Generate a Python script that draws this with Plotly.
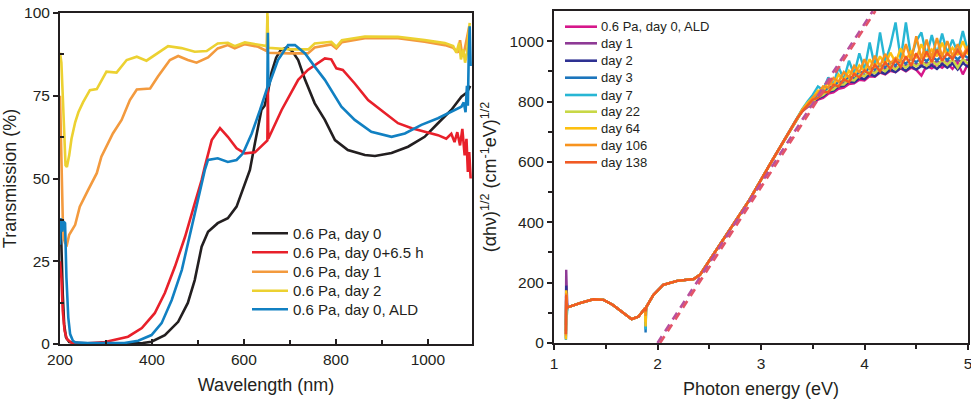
import plotly.graph_objects as go

# ---------------- Left panel: transmission spectra ----------------
wl_black = [200, 203, 206, 209, 213, 220, 240, 300, 380, 399, 428, 457, 478, 493, 508, 522, 543, 565, 584, 602, 613, 624, 638, 645, 652, 660, 670, 680, 693, 705, 718, 733, 754, 776, 798, 826, 863, 885, 921, 957, 993, 1022, 1051, 1073, 1085, 1092]
t_black = [38, 30, 15, 6, 2, 0.6, 0.3, 0.2, 0.3, 0.7, 2.7, 6.7, 12.4, 19.3, 29.4, 33.9, 36.5, 38, 41.5, 48.5, 52.6, 60.7, 70.7, 72, 76, 82, 86.5, 88.8, 89.6, 88.5, 85.8, 79.8, 72.7, 67.7, 61.6, 58.6, 57.1, 56.8, 57.7, 59.6, 62.6, 66.7, 70.7, 74.7, 76, 78]

wl_red = [200, 203, 206, 210, 215, 225, 260, 298, 348, 378, 406, 428, 450, 472, 493, 508, 515, 530, 548, 565, 584, 602, 624, 641, 651, 652, 653, 682, 718, 739, 776, 790, 801, 815, 841, 870, 906, 935, 965, 993, 1022, 1040, 1051, 1058, 1064, 1070, 1075, 1080, 1084, 1087, 1090, 1093]
t_red = [25, 20, 10, 4, 1.5, 0.4, 0.2, 0.6, 2.2, 4.8, 9.3, 15.4, 23.4, 32.4, 42.5, 49.5, 53.6, 61.6, 65.2, 62.6, 59.1, 57.6, 57.9, 60.1, 61.5, 78, 62, 70.7, 79.8, 82.8, 86.3, 86, 83.3, 82.8, 78.7, 73.7, 69.7, 66.7, 65.2, 64.1, 63.1, 62, 63.5, 61, 64, 60, 65, 57, 62, 52, 58, 50]

wl_orange = [200, 202, 204, 206, 208, 211, 215, 220, 233, 243, 261, 280, 290, 315, 334, 352, 367, 396, 413, 439, 457, 478, 497, 522, 543, 565, 580, 602, 631, 650, 651, 652, 700, 739, 754, 790, 801, 813, 863, 935, 993, 1037, 1055, 1065, 1070, 1075, 1080, 1085, 1090]
t_orange = [75, 62, 47, 38, 32, 30.5, 30, 33, 36, 41.5, 46.5, 51.6, 56.6, 63.6, 67.7, 73.7, 76.9, 77.2, 80.8, 85.8, 87, 85.8, 85, 86.6, 89.3, 90.3, 89.3, 90.6, 89.8, 88.5, 99, 88, 87.8, 87.8, 89.6, 90.5, 89.3, 91.2, 92.4, 92.4, 91.3, 90.3, 89.5, 88, 91.8, 87, 89, 93, 96]

wl_yellow = [200, 203, 206, 209, 212, 215, 220, 225, 233, 240, 250, 265, 280, 301, 323, 345, 367, 388, 406, 435, 464, 493, 519, 543, 565, 580, 602, 630, 650, 651, 653, 700, 740, 754, 790, 801, 813, 863, 935, 993, 1037, 1055, 1062, 1068, 1072, 1077, 1081, 1085, 1088, 1091]
t_yellow = [88, 85, 75, 62, 54, 53.5, 57, 62, 67, 70, 73, 76.7, 77, 82.3, 82, 85.8, 86.8, 85.6, 87.3, 90, 89.4, 88.3, 88.5, 90.8, 91, 90, 91.1, 90.5, 90, 100, 89.5, 89, 89, 90.8, 91.3, 89.8, 91.8, 92.9, 92.8, 91.8, 90.9, 90, 88, 91, 86, 89, 85, 88, 93, 97]

wl_blue = [200, 202, 205, 208, 211, 214, 218, 222, 228, 233, 260, 340, 370, 399, 421, 443, 465, 478, 493, 508, 515, 522, 543, 565, 584, 598, 617, 635, 651, 652, 653, 674, 696, 711, 733, 754, 776, 812, 841, 877, 921, 950, 986, 1022, 1051, 1073, 1078, 1082, 1085, 1087, 1089, 1091, 1093]
t_blue = [30, 38, 34, 37, 36.5, 20, 8, 3, 1, 0.5, 0.3, 0.3, 1, 2.7, 6.3, 13.3, 22.4, 30.4, 39.5, 48.5, 52.6, 55.6, 56.1, 55, 55.6, 57.6, 63.6, 70.7, 77.5, 94, 77.7, 85.8, 90.3, 90.3, 87.8, 83.8, 79.8, 71.7, 67.7, 64.1, 62.6, 63.6, 66.2, 68.2, 70.2, 71.7, 73, 70, 78, 72, 88, 96, 84]

left_names = ["0.6 Pa, day 0", "0.6 Pa, day 0+6.5 h", "0.6 Pa, day 1", "0.6 Pa, day 2", "0.6 Pa, day 0, ALD"]
left_colors = ["#231f20", "#e8202a", "#f39a3e", "#ecd131", "#1180c2"]

# ---------------- Right panel: Tauc plot ----------------
E_low_a = [1.13, 1.155, 1.25, 1.38, 1.48, 1.57, 1.67, 1.75, 1.815, 1.88]
y_low_a = [118, 121, 132, 145, 143, 126, 99, 79, 87, 115]
E_low_b = [1.89, 1.96, 2.056, 2.19, 2.35, 2.41, 2.70, 2.89, 3.10, 3.35]
y_low_b = [118, 159, 193, 206, 212, 226, 375, 475, 600, 745]
E_spike = [1.115, 1.118, 1.121, 1.124]
E_dip = [1.885]

E_hi = [3.40, 3.45, 3.50, 3.55, 3.60, 3.65, 3.70, 3.75, 3.80, 3.85, 3.90, 3.95, 4.00, 4.05, 4.10, 4.15, 4.20,
        4.25, 4.30, 4.35, 4.40, 4.45, 4.50, 4.55, 4.60, 4.65, 4.70, 4.75, 4.80, 4.85, 4.90, 4.95, 5.00]

right_names = ["0.6 Pa, day 0, ALD", "day 1", "day 2", "day 3", "day 7", "day 22", "day 64", "day 106", "day 138"]
right_colors = ["#d6178a", "#8e3a95", "#2e3192", "#1c75bc", "#27b6d4", "#c8d846", "#fdc010", "#f7931e", "#f15a24"]

spike_lo = [30, 60, 40, 15, 10, 20, 12, 25, 30]
spike_hi = [170, 243, 190, 150, 130, 160, 175, 165, 160]
spike_mid = [120, 170, 133, 105, 91, 112, 122, 115, 112]
dip_189 = [100, 100, 90, 35, 45, 70, 55, 90, 105]

hi_day0 = [768, 782, 792, 806, 812, 826, 830, 842, 846, 858, 860, 872, 870, 884, 882, 896, 890, 902, 897, 910, 900, 912, 905, 886, 918, 910, 922, 912, 926, 908, 930, 890, 925]
hi_day1 = [772, 786, 800, 810, 824, 830, 844, 848, 860, 862, 874, 876, 888, 886, 900, 896, 910, 904, 916, 910, 922, 916, 926, 920, 930, 922, 934, 926, 936, 928, 938, 930, 940]
hi_day2 = [770, 784, 796, 810, 818, 832, 836, 850, 852, 866, 864, 878, 874, 890, 884, 898, 892, 906, 898, 912, 902, 916, 906, 918, 910, 920, 908, 924, 912, 926, 906, 928, 914]
hi_day3 = [774, 792, 806, 822, 830, 846, 850, 866, 866, 882, 880, 898, 896, 912, 906, 922, 914, 930, 920, 936, 926, 942, 930, 946, 934, 950, 936, 952, 938, 954, 940, 956, 944]
hi_day7 = [776, 800, 822, 850, 838, 880, 856, 915, 872, 935, 890, 960, 905, 996, 915, 1029, 930, 985, 1062, 940, 1062, 945, 1000, 1029, 950, 1020, 955, 1025, 960, 1005, 962, 1034, 965]
hi_day22 = [770, 786, 800, 814, 822, 836, 840, 856, 856, 872, 870, 888, 884, 900, 894, 910, 900, 918, 906, 924, 912, 928, 916, 932, 918, 936, 920, 938, 922, 940, 912, 942, 925]
hi_day64 = [774, 796, 812, 836, 832, 866, 854, 890, 870, 902, 886, 920, 900, 940, 912, 950, 922, 962, 930, 976, 938, 966, 944, 990, 948, 972, 950, 995, 952, 978, 954, 1000, 956]
hi_day106 = [772, 790, 814, 826, 850, 846, 878, 866, 898, 880, 918, 896, 940, 906, 952, 916, 958, 926, 945, 932, 990, 936, 1016, 940, 1005, 944, 1010, 948, 1000, 950, 990, 952, 985]
hi_day138 = [768, 786, 806, 812, 832, 830, 856, 850, 874, 864, 892, 880, 904, 890, 922, 900, 930, 908, 938, 914, 950, 918, 960, 925, 966, 930, 972, 935, 960, 940, 970, 945, 975]
hi_all = [hi_day0, hi_day1, hi_day2, hi_day3, hi_day7, hi_day22, hi_day64, hi_day106, hi_day138]

fit1_x = [2.0, 4.08]
fit1_y = [0, 1100]
fit2_x = [2.025, 4.105]
fit2_y = [0, 1100]

FONT = "Arial, Liberation Sans, Helvetica, sans-serif"
AX = "#231f20"
W, H = 971, 400

fig = go.Figure()

for wl, t, name, col in zip([wl_black, wl_red, wl_orange, wl_yellow, wl_blue],
                            [t_black, t_red, t_orange, t_yellow, t_blue],
                            left_names, left_colors):
    fig.add_trace(go.Scatter(x=wl, y=t, mode="lines", name=name, showlegend=False,
                             line=dict(color=col, width=2.6),
                             xaxis="x", yaxis="y"))

for i, (name, col) in enumerate(zip(right_names, right_colors)):
    xs = E_spike + E_low_a + E_dip + E_low_b + E_hi
    ys = [spike_lo[i], spike_hi[i], spike_lo[i], spike_mid[i]] + y_low_a + [dip_189[i]] + y_low_b + hi_all[i]
    fig.add_trace(go.Scatter(x=xs, y=ys, mode="lines", name=name, showlegend=False,
                             line=dict(color=col, width=2.4),
                             xaxis="x2", yaxis="y2"))

fig.add_trace(go.Scatter(x=fit1_x, y=fit1_y, mode="lines", showlegend=False,
                         line=dict(color="#b8509e", width=2.6, dash="8px,6px"),
                         xaxis="x2", yaxis="y2"))
fig.add_trace(go.Scatter(x=fit2_x, y=fit2_y, mode="lines", showlegend=False,
                         line=dict(color="#e35468", width=2.6, dash="8px,6px"),
                         xaxis="x2", yaxis="y2"))

# ---- legends (drawn as line keys + text, to match the tight row spacing) ----
shapes = []
annotations = []
left_rows_px = [233.3, 252.3, 271.7, 290.7, 309.3]
for name, col, ypx in zip(left_names, left_colors, left_rows_px):
    yp = 1 - ypx / H
    shapes.append(dict(type="line", xref="paper", yref="paper", x0=252 / W, x1=288 / W, y0=yp, y1=yp,
                       line=dict(color=col, width=2.6)))
    annotations.append(dict(text=name, xref="paper", yref="paper", x=291 / W, y=yp, xanchor="left",
                            yanchor="middle", showarrow=False,
                            font=dict(family=FONT, size=15, color=AX)))
right_rows_px = [26.7, 43.3, 60.7, 77.7, 95.0, 111.7, 128.3, 145.0, 162.3]
for name, col, ypx in zip(right_names, right_colors, right_rows_px):
    yp = 1 - ypx / H
    shapes.append(dict(type="line", xref="paper", yref="paper", x0=565 / W, x1=597 / W, y0=yp, y1=yp,
                       line=dict(color=col, width=2.6)))
    annotations.append(dict(text=name, xref="paper", yref="paper", x=599 / W, y=yp, xanchor="left",
                            yanchor="middle", showarrow=False,
                            font=dict(family=FONT, size=13, color=AX)))

tickfont = dict(family=FONT, size=15.5, color=AX)
titlefont = dict(family=FONT, size=18, color=AX)

fig.update_layout(
    width=W, height=H,
    margin=dict(l=0, r=0, t=0, b=0),
    paper_bgcolor="white", plot_bgcolor="white",
    font=dict(family=FONT, color=AX),
    showlegend=False,
    shapes=shapes, annotations=annotations,
    xaxis=dict(domain=[60/W, 472/W], range=[200, 1096], anchor="y", automargin=False,
               tickvals=[200, 400, 600, 800, 1000], ticks="inside", ticklen=5, tickwidth=1.5,
               tickcolor=AX, minor=dict(tickvals=[300, 500, 700, 900], ticks="inside", ticklen=4, tickcolor=AX, tickwidth=1.5),
               showline=True, linecolor=AX, linewidth=2, mirror=True, showgrid=False, zeroline=False,
               ticklabeloverflow="allow",
               tickfont=tickfont, title=dict(text="Wavelength (nm)", font=titlefont, standoff=12)),
    yaxis=dict(domain=[56/H, 387/H], range=[0, 100], anchor="x", automargin=False,
               tickvals=[0, 25, 50, 75, 100], ticks="outside", ticklen=5, tickwidth=1.5, tickcolor=AX,
               minor=dict(tickvals=[12.5, 37.5, 62.5, 87.5], ticks="inside", ticklen=4, tickcolor=AX, tickwidth=1.5),
               showline=True, linecolor=AX, linewidth=2, mirror=True, showgrid=False, zeroline=False,
               ticklabeloverflow="allow",
               tickfont=tickfont, title=dict(text="Transmission (%)", font=titlefont, standoff=8)),
    xaxis3=dict(overlaying="x", matches="x", side="top", anchor="y", range=[200, 1096], automargin=False,
                tickvals=[200, 400, 600, 800, 1000], ticks="inside", ticklen=5, tickwidth=1.5, tickcolor=AX,
                minor=dict(tickvals=[300, 500, 700, 900], ticks="inside", ticklen=4, tickcolor=AX, tickwidth=1.5),
                showticklabels=False, showgrid=False, zeroline=False, showline=False),
    yaxis3=dict(overlaying="y", side="right", anchor="x", range=[0, 100], automargin=False,
                tickvals=[0, 25, 50, 75, 100], ticks="inside", ticklen=5, tickwidth=1.5, tickcolor=AX,
                minor=dict(tickvals=[12.5, 37.5, 62.5, 87.5], ticks="inside", ticklen=4, tickcolor=AX, tickwidth=1.5),
                showticklabels=False, showgrid=False, zeroline=False, showline=False),
    xaxis2=dict(domain=[554/W, 968/W], range=[1, 5], anchor="y2", automargin=False,
                tickvals=[1, 2, 3, 4, 5], ticks="outside", ticklen=5, tickwidth=1.5, tickcolor=AX,
                minor=dict(tickvals=[1.5, 2.5, 3.5, 4.5], ticks="outside", ticklen=4, tickcolor=AX, tickwidth=1.5),
                showline=True, linecolor=AX, linewidth=2, mirror=True, showgrid=False, zeroline=False,
                ticklabeloverflow="allow",
                tickfont=tickfont, title=dict(text="Photon energy (eV)", font=titlefont, standoff=12)),
    yaxis2=dict(domain=[57/H, 389/H], range=[0, 1100], anchor="x2", automargin=False,
                tickvals=[0, 200, 400, 600, 800, 1000], ticks="outside", ticklen=5, tickwidth=1.5, tickcolor=AX,
                minor=dict(tickvals=[100, 300, 500, 700, 900], ticks="outside", ticklen=4, tickcolor=AX, tickwidth=1.5),
                showline=True, linecolor=AX, linewidth=2, mirror=True, showgrid=False, zeroline=False,
                ticklabeloverflow="allow",
                tickfont=tickfont,
                title=dict(text="(αhν)<sup>1/2</sup> (cm<sup>-1</sup>eV)<sup>1/2</sup>", font=titlefont, standoff=8)),
)

fig.write_html("out.html", config={"displayModeBar": False},
               post_script="document.body.style.margin='0';document.body.style.padding='0';")
